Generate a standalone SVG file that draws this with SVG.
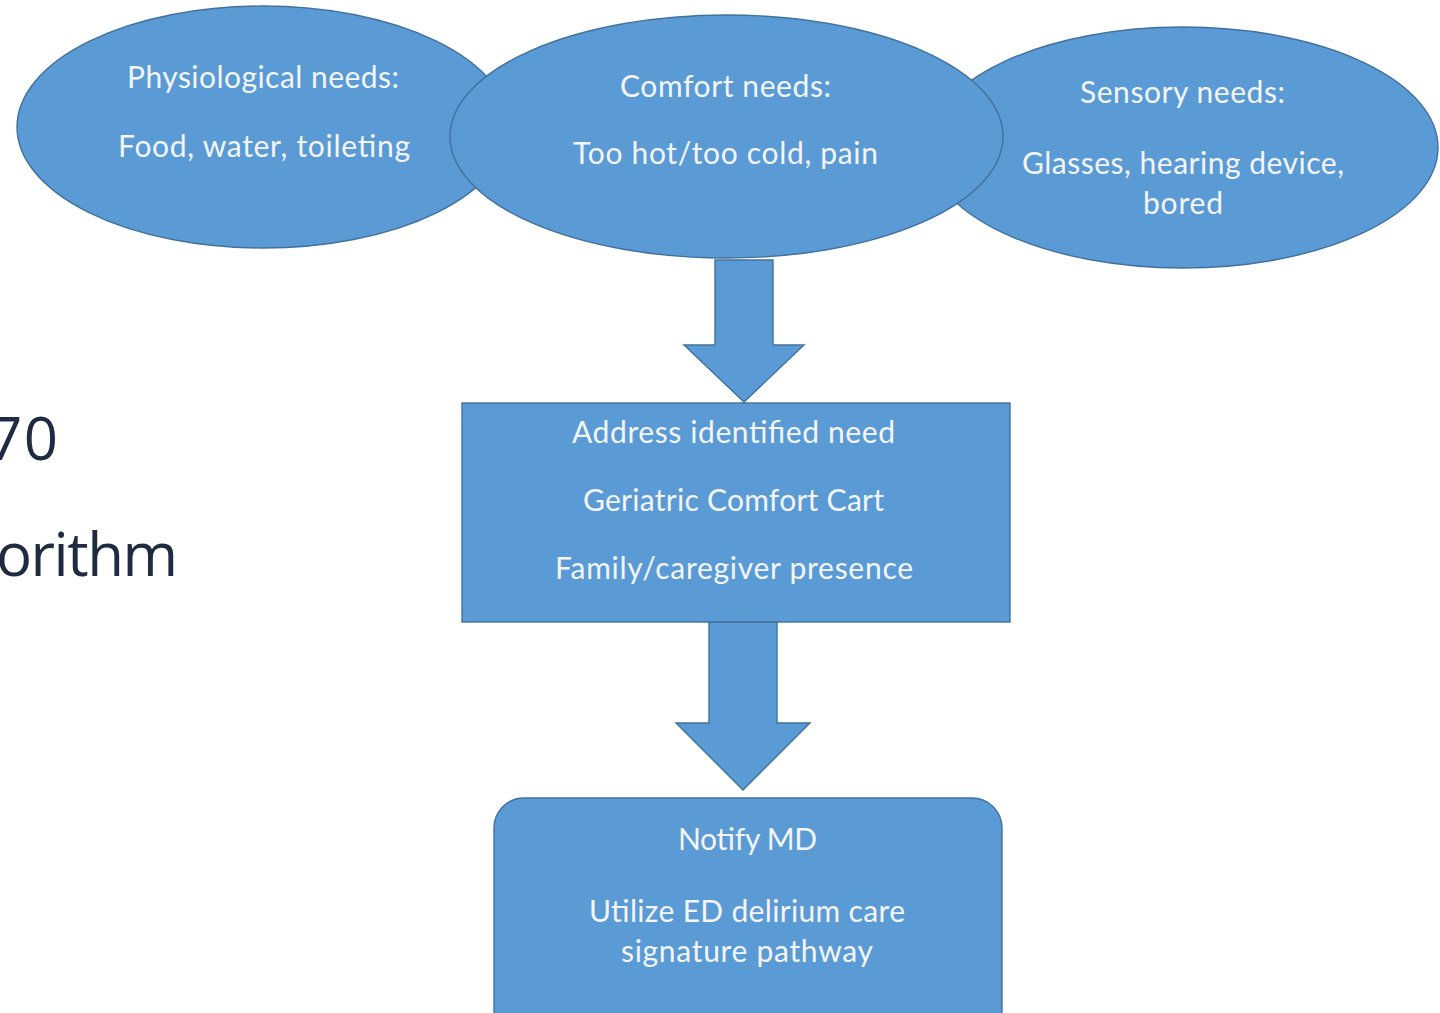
<svg xmlns="http://www.w3.org/2000/svg" width="1440" height="1013" viewBox="0 0 1440 1013">
<style>
.shape{fill:#5B9BD5;stroke:#41719C;stroke-width:1.4}
.lbl{font-family:Lato,"Open Sans","Liberation Sans",sans-serif;font-size:30px;fill:#F3F5F8;text-anchor:middle}
.side{font-family:"Open Sans","Noto Sans","Liberation Sans",sans-serif;font-size:60px;fill:#1F2B40;text-anchor:end}
</style>
<rect width="1440" height="1013" fill="#FFFFFF"/>
<g id="side-text">
<text class="side" x="58" y="460" textLength="70">70</text>
<text class="side" x="178" y="576" textLength="182">orithm</text>
</g>
<g id="node-physiological">
<ellipse class="shape" cx="263" cy="127" rx="246" ry="121"/>
<text class="lbl" x="263" y="88" textLength="272">Physiological needs:</text>
<text class="lbl" x="264" y="157" textLength="292">Food, water, toileting</text>
</g>
<g id="node-sensory">
<ellipse class="shape" cx="1183" cy="147.5" rx="255" ry="120.5"/>
<text class="lbl" x="1182.5" y="103" textLength="205">Sensory needs:</text>
<text class="lbl" x="1183" y="174" textLength="322">Glasses, hearing device,</text>
<text class="lbl" x="1183" y="214" textLength="80">bored</text>
</g>
<g id="node-comfort">
<ellipse class="shape" cx="726.5" cy="136.5" rx="276.5" ry="121.5"/>
<text class="lbl" x="725.5" y="97" textLength="211">Comfort needs:</text>
<text class="lbl" x="725.5" y="164" textLength="305">Too hot/too cold, pain</text>
</g>
<g id="connectors">
<path class="shape" d="M715 260 L773 260 L773 345 L804 345 L744 402 L684 345 L715 345 Z"/>
<path class="shape" d="M709 622 L777 622 L777 723 L810 723 L743 790 L676 723 L709 723 Z"/>
</g>
<g id="node-address">
<rect class="shape" x="462" y="403" width="548" height="219"/>
<text class="lbl" x="733.5" y="443" textLength="323">Address identified need</text>
<text class="lbl" x="733.5" y="511" textLength="301">Geriatric Comfort Cart</text>
<text class="lbl" x="734" y="579" textLength="358">Family/caregiver presence</text>
</g>
<g id="node-notify">
<rect class="shape" x="494" y="798" width="508" height="250" rx="30" ry="30"/>
<text class="lbl" x="747.5" y="850" textLength="139">Notify MD</text>
<text class="lbl" x="747" y="922" textLength="316">Utilize ED delirium care</text>
<text class="lbl" x="747" y="962" textLength="252">signature pathway</text>
</g>
</svg>
